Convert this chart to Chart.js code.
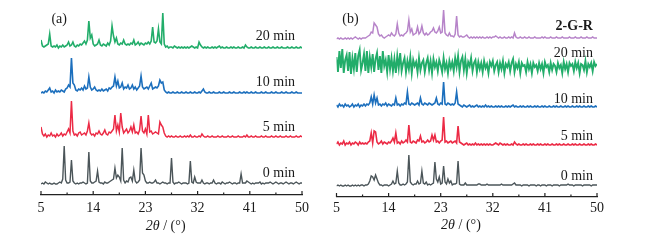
<!DOCTYPE html>
<html>
<head>
<meta charset="utf-8">
<script src="https://cdn.jsdelivr.net/npm/chart.js@4.4.0/dist/chart.umd.min.js"></script>
<style>
  body { margin: 0; background: #fff; width: 659px; height: 240px; overflow: hidden; position: relative; }
  canvas { position: absolute; top: 0; }
  #chartA { left: 0; }
  #chartB { left: 330px; }
</style>
</head>
<body>
<canvas id="chartA" width="330" height="240"></canvas>
<canvas id="chartB" width="329" height="240"></canvas>
<script>
// 2theta grid (deg)
const angle = [
  5,5.25,5.5,5.75,6,6.25,6.5,6.75,7,7.25,7.5,7.75,8,8.25,8.5,8.75,9,9.25,9.5,9.75,
  10,10.25,10.5,10.75,11,11.25,11.5,11.75,12,12.25,12.5,12.75,13,13.25,13.5,13.75,14,14.25,14.5,14.75,
  15,15.25,15.5,15.75,16,16.25,16.5,16.75,17,17.25,17.5,17.75,18,18.25,18.5,18.75,19,19.25,19.5,19.75,
  20,20.25,20.5,20.75,21,21.25,21.5,21.75,22,22.25,22.5,22.75,23,23.25,23.5,23.75,24,24.25,24.5,24.75,
  25,25.25,25.5,25.75,26,26.25,26.5,26.75,27,27.25,27.5,27.75,28,28.25,28.5,28.75,29,29.25,29.5,29.75,
  30,30.25,30.5,30.75,31,31.25,31.5,31.75,32,32.25,32.5,32.75,33,33.25,33.5,33.75,34,34.25,34.5,34.75,
  35,35.25,35.5,35.75,36,36.25,36.5,36.75,37,37.25,37.5,37.75,38,38.25,38.5,38.75,39,39.25,39.5,39.75,
  40,40.25,40.5,40.75,41,41.25,41.5,41.75,42,42.25,42.5,42.75,43,43.25,43.5,43.75,44,44.25,44.5,44.75,
  45,45.25,45.5,45.75,46,46.25,46.5,46.75,47,47.25,47.5,47.75,48,48.25,48.5,48.75,49,49.25,49.5,49.75,
  50
];
const tickLabels = [5, 14, 23, 32, 41, 50];

// ---- panel (a) intensities ----
const a0min = [
  1,2,1,3,2,1,2,1,1,2,1,1,2,3,2,6,39,5,2,2,
  3,25,4,2,1,2,1,2,2,3,2,1,2,33,4,2,2,3,4,14,
  3,2,2,1,3,2,2,3,4,5,6,17,7,10,8,4,37,5,2,4,
  3,7,8,4,15,4,2,3,5,37,12,10,4,2,2,3,2,2,3,5,
  2,2,1,2,3,2,2,1,2,2,27,3,1,2,2,3,2,1,2,2,
  2,1,2,24,3,2,8,3,2,2,2,5,2,1,2,2,1,2,2,5,
  2,1,2,2,1,3,2,1,2,2,3,2,1,2,2,1,2,2,11,2,
  2,2,4,3,2,1,2,1,2,2,2,3,1,2,1,2,2,2,3,2,
  1,2,3,2,1,2,2,1,2,3,2,1,2,2,1,2,3,2,1,2,
  2
];
const a5min = [
  12,5,3,5,2,4,3,6,3,4,2,5,3,4,6,3,5,4,7,10,
  6,38,8,4,5,3,6,7,4,5,6,4,8,16,6,4,5,3,6,5,
  8,5,4,6,9,5,4,7,6,8,10,24,8,14,7,26,12,6,8,10,
  6,8,12,7,14,6,7,5,9,23,8,6,10,5,24,7,8,5,6,7,
  6,5,17,14,12,6,3,2,3,2,3,2,2,3,2,2,3,2,2,3,
  2,3,2,4,2,2,3,2,2,3,2,5,3,2,2,3,2,2,3,2,
  2,2,3,2,2,3,2,2,2,3,2,2,3,2,2,2,3,2,2,2,
  3,2,4,2,2,3,2,2,3,2,2,2,3,2,2,3,2,2,2,3,
  2,2,3,2,2,3,2,2,2,3,2,2,3,2,2,2,3,2,2,3,
  2
];
const a10min = [
  2,3,2,4,3,5,7,3,4,2,5,3,4,3,5,4,3,6,7,10,
  8,37,12,10,5,4,6,5,7,5,9,6,7,18,8,5,6,8,5,4,
  5,4,6,4,5,6,4,7,6,8,9,18,9,14,7,8,12,6,8,7,
  10,6,7,10,6,8,5,7,9,19,8,6,7,8,6,9,12,6,7,8,
  7,9,15,12,13,5,3,2,3,2,2,3,2,2,3,2,2,3,2,2,
  3,2,2,3,2,2,3,2,2,3,2,4,6,3,2,2,3,2,2,3,
  2,2,2,3,2,2,3,2,2,2,3,2,2,3,2,2,2,3,2,2,
  3,2,3,2,2,3,2,2,3,2,2,2,3,2,2,3,2,2,2,3,
  2,2,3,2,2,2,3,2,2,3,2,2,2,3,2,2,3,2,2,2,
  2
];
const a20min = [
  10,4,3,4,5,6,16,4,3,4,3,5,2,4,3,5,3,4,5,8,
  4,5,8,4,3,5,4,6,5,7,9,6,10,29,12,15,6,4,5,6,
  10,5,4,6,5,4,7,5,9,24,14,8,12,6,5,7,6,10,6,5,
  6,5,7,6,10,5,6,8,5,7,6,5,7,6,8,6,9,23,8,7,
  9,21,8,6,37,6,3,4,2,3,3,2,4,3,2,3,2,3,2,3,
  2,3,2,3,4,3,2,3,2,8,5,3,2,3,2,3,2,2,3,2,
  3,2,3,4,2,3,2,2,3,2,2,3,2,3,2,2,3,2,2,3,
  2,5,3,2,2,3,2,2,3,2,2,3,2,2,3,2,2,3,2,2,
  3,2,2,3,2,2,3,2,2,2,3,2,2,3,2,2,3,2,2,3,
  2
];

// ---- panel (b) intensities ----
const b0min = [
  1,2,1,2,1,1,2,1,2,1,1,2,1,2,1,2,1,2,2,1,
  2,2,3,6,11,10,7,12,8,4,2,2,1,2,2,2,1,2,3,6,
  3,4,16,4,2,2,3,2,3,5,32,5,3,2,3,3,6,3,4,16,
  4,3,5,2,3,2,3,4,25,8,5,10,3,4,21,5,3,8,4,6,
  2,3,3,4,26,3,2,2,2,4,2,2,2,2,2,2,2,2,3,3,
  2,2,2,2,3,2,2,2,2,2,2,2,2,2,3,2,2,2,2,2,
  2,2,3,4,2,2,2,2,1,2,2,2,2,1,2,2,2,2,1,2,
  2,1,2,2,2,1,2,2,2,1,2,2,2,2,1,2,2,2,2,2,
  3,2,2,2,1,2,2,2,2,2,1,2,2,2,2,2,1,2,2,2,
  2
];
const b5min = [
  4,6,3,5,4,7,3,5,4,6,3,5,4,6,5,3,6,4,5,4,
  5,4,6,7,15,5,17,16,6,4,5,7,4,6,5,4,6,5,7,10,
  6,15,5,6,4,7,5,6,8,6,23,6,5,7,6,5,8,7,12,6,
  7,5,6,8,6,7,13,8,13,6,7,5,7,8,31,6,7,5,6,7,
  5,6,7,5,22,6,5,4,3,4,5,3,4,3,4,3,5,3,4,3,
  4,3,4,3,4,3,4,3,3,4,5,4,3,5,4,3,4,3,4,3,
  3,4,3,6,4,3,4,3,3,4,3,4,3,3,4,3,4,3,3,4,
  3,4,3,3,4,3,4,3,3,4,3,3,4,3,4,3,3,4,3,3,
  4,3,3,4,3,4,3,3,4,3,3,4,3,3,4,3,4,3,3,4,
  3
];
const b10min = [
  5,3,6,4,5,3,6,4,5,3,4,6,3,5,4,6,3,5,4,6,
  4,6,5,7,13,6,15,7,12,5,6,4,6,5,7,4,6,5,4,6,
  5,12,5,6,4,6,5,7,6,18,6,5,7,6,5,6,7,5,12,6,
  5,7,6,5,7,6,5,6,7,12,6,5,7,6,28,6,5,7,6,5,
  6,5,7,18,6,5,4,3,5,4,3,4,5,3,4,3,4,5,3,4,
  3,4,3,5,3,4,3,4,3,3,4,3,4,3,4,3,3,4,3,4,
  3,4,5,3,4,3,3,4,3,4,3,3,4,3,4,3,3,4,3,4,
  3,3,4,3,4,3,3,4,3,3,4,3,4,3,3,4,3,3,4,3,
  4,3,3,4,3,3,4,3,4,3,3,4,3,3,4,3,4,3,3,4,
  3
];
const b20min = [
  18,3,24,7,26,2,15,20,4,23,1,17,6,22,3,19,25,5,12,21,
  4,24,2,18,8,21,3,16,22,5,19,2,24,9,15,3,20,6,17,4,
  16,2,19,7,22,4,12,17,3,14,6,18,2,15,9,13,3,17,5,12,
  15,3,12,17,5,14,2,16,8,13,4,15,10,3,17,6,12,2,14,7,
  13,4,17,8,19,3,14,18,5,16,2,13,9,17,4,12,15,3,13,6,
  12,3,14,7,11,2,13,9,14,4,10,13,3,12,6,14,2,11,8,13,
  4,12,16,3,11,7,13,2,12,9,10,3,13,6,11,2,12,8,10,4,
  12,6,11,2,13,8,10,3,12,5,11,9,3,12,7,10,2,13,6,11,
  3,12,9,11,4,13,7,12,2,11,10,5,14,3,11,8,12,4,13,9,
  11
];
const bGR = [
  2,3,2,3,2,2,3,2,3,2,3,2,3,4,3,2,3,2,3,3,
  3,4,5,6,9,8,18,16,14,7,5,6,4,3,4,5,6,5,8,6,
  5,7,17,8,5,6,5,7,8,10,21,9,12,6,7,8,14,7,9,15,
  8,6,8,6,7,9,10,13,9,8,10,14,8,9,31,8,6,5,8,5,
  5,4,7,25,6,4,5,4,4,5,6,4,3,4,3,4,3,4,3,4,
  3,4,3,3,4,3,4,3,4,4,5,4,3,4,3,3,4,3,3,4,
  3,4,3,8,4,3,3,4,3,3,4,3,3,4,3,3,3,4,3,3,
  3,3,4,3,4,3,3,3,4,3,3,3,4,3,3,3,4,3,3,3,
  3,4,3,3,3,4,3,3,3,4,3,3,3,4,3,3,3,4,3,3,
  3
];

const namesA = ['0 min', '5 min', '10 min', '20 min'];
const namesB = ['0 min', '5 min', '10 min', '20 min', '2-G-R'];
const offsetsA = [10, 56, 100, 145];
const offsetsB = [10, 49, 87, 122, 156];
const colorsA = ['#4b5559', '#ec2a45', '#1c6fbd', '#22ad6a'];
const colorsB = ['#4b5559', '#ec2a45', '#1c6fbd', '#22ad6a', '#b784c9'];
const widthsA = [1.4, 1.5, 1.6, 1.6];
const widthsB = [1.4, 1.6, 1.6, 1.9, 1.5];

const SERIF = '"Liberation Serif", "Times New Roman", serif';

// inward ticks, trace names, panel tag and axis title
const decor = {
  id: 'decor',
  afterDraw(chart, args, opts) {
    const { ctx, chartArea } = chart;
    const x = chart.scales.x, y = chart.scales.y;
    ctx.save();
    ctx.strokeStyle = '#222';
    ctx.lineWidth = 1.2;
    x.ticks.forEach((t, i) => {
      const px = x.getPixelForValue(t.value);
      const len = i % 2 === 0 ? 4 : 2.5;
      ctx.beginPath();
      ctx.moveTo(px, chartArea.bottom);
      ctx.lineTo(px, chartArea.bottom - len);
      ctx.stroke();
    });

    ctx.fillStyle = '#1a1a1a';
    ctx.textBaseline = 'middle';
    ctx.textAlign = 'right';
    opts.names.forEach((name, i) => {
      ctx.font = (opts.bold[i] ? 'bold ' : '') + '14px ' + SERIF;
      ctx.fillText(name, x.getPixelForValue(opts.nameX), y.getPixelForValue(opts.nameY[i]));
    });

    ctx.textAlign = 'left';
    ctx.font = '14px ' + SERIF;
    ctx.fillText(opts.tag, x.getPixelForValue(opts.tagX), y.getPixelForValue(opts.tagY));

    // axis title: 2θ / (°)
    const italic = 'italic 14px ' + SERIF, plain = '14px ' + SERIF;
    ctx.font = italic;
    const w1 = ctx.measureText('2θ').width;
    ctx.font = plain;
    const w2 = ctx.measureText(' / (°)').width;
    const sx = x.getPixelForValue(opts.titleX) - (w1 + w2) / 2;
    const sy = opts.titleY;
    ctx.font = italic;
    ctx.fillText('2θ', sx, sy);
    ctx.font = plain;
    ctx.fillText(' / (°)', sx + w1, sy);
    ctx.restore();
  }
};

function makePanel(id, series, offsets, colors, widths, axisY, pad, decorOpts) {
  const datasets = series.map((vals, k) => ({
    data: angle.map((a, i) => ({ x: a, y: offsets[k] + vals[i] })),
    borderColor: colors[k],
    borderWidth: widths[k],
    pointRadius: 0,
    tension: 0,
    fill: false
  }));
  new Chart(document.getElementById(id).getContext('2d'), {
    type: 'line',
    data: { datasets },
    options: {
      responsive: false,
      animation: false,
      layout: { padding: pad },
      plugins: { legend: { display: false }, tooltip: { enabled: false }, decor: decorOpts },
      scales: {
        x: {
          type: 'linear',
          min: 5, max: 50,
          afterFit: (scale) => { scale.height = 240 - axisY; },
          grid: { display: false, drawTicks: false },
          border: { display: true, color: '#222', width: 1.3 },
          ticks: {
            stepSize: 4.5,
            padding: decorOpts.tickPad,
            autoSkip: false,
            maxRotation: 0,
            color: '#1a1a1a',
            font: { family: SERIF, size: 14 },
            callback: (v) => tickLabels.includes(v) ? String(v) : ''
          }
        },
        y: { display: false, min: 0, max: axisY }
      }
    },
    plugins: [decor]
  });
}

makePanel('chartA', [a0min, a5min, a10min, a20min], offsetsA, colorsA, widthsA, 195,
  { left: 41, right: 28, top: 0, bottom: 0 },
  { names: namesA, bold: [false, false, false, false], nameX: 48.8, nameY: [22, 68, 113, 159],
    tag: '(a)', tagX: 6.8, tagY: 176, titleX: 26.5, titleY: 226, tickPad: 5 });

makePanel('chartB', [b0min, b5min, b10min, b20min, bGR], offsetsB, colorsB, widthsB, 197,
  { left: 5, right: 62, top: 0, bottom: 0 },
  { names: namesB, bold: [false, false, false, false, true], nameX: 49.3, nameY: [21, 61, 98, 144, 171],
    tag: '(b)', tagX: 6.0, tagY: 178, titleX: 26.5, titleY: 225, tickPad: 3 });
</script>
</body>
</html>
